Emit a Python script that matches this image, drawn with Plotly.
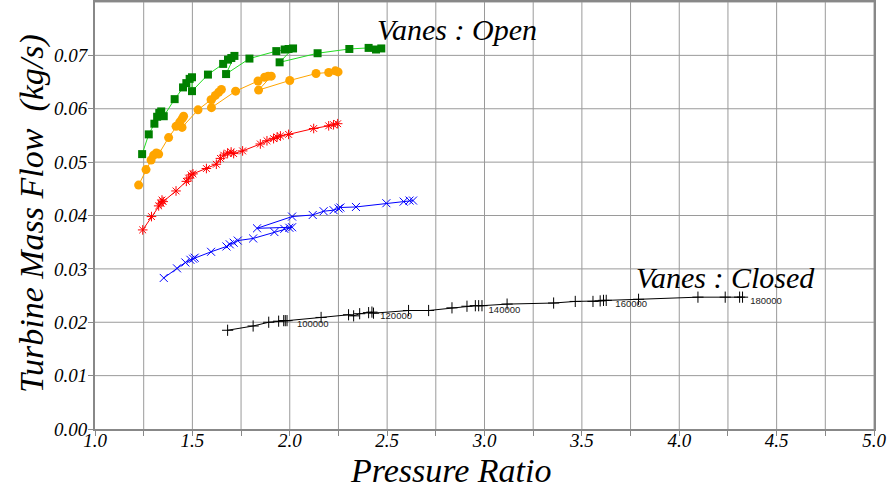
import plotly.graph_objects as go

# ---- data ----
green_x = [1.242, 1.276, 1.305, 1.319, 1.330, 1.340, 1.353, 1.409, 1.452, 1.469, 1.486, 1.498,
           1.498, 1.580, 1.658, 1.683, 1.700, 1.716,
           1.673, 1.793, 1.931, 1.974, 1.994, 2.017,
           1.948, 2.143, 2.306, 2.405, 2.443, 2.470]
green_y = [0.0515, 0.0552, 0.0572, 0.0585, 0.0592, 0.0595, 0.0586, 0.0618, 0.0640, 0.0648, 0.0656, 0.0659,
           0.0633, 0.0664, 0.0684, 0.0692, 0.0695, 0.0699,
           0.0665, 0.0694, 0.0708, 0.0711, 0.0712, 0.0713,
           0.0687, 0.0704, 0.0712, 0.0714, 0.0711, 0.0713]

orange_x = [1.224, 1.262, 1.288, 1.301, 1.315, 1.327, 1.378, 1.416, 1.435, 1.447, 1.455,
            1.447, 1.529, 1.596, 1.618, 1.635, 1.649,
            1.598, 1.722, 1.837, 1.871, 1.889, 1.905,
            1.840, 2.000, 2.135, 2.200, 2.234, 2.248]
orange_y = [0.0457, 0.0486, 0.0504, 0.0513, 0.0517, 0.0515, 0.0546, 0.0567, 0.0575, 0.0581, 0.0586,
            0.0565, 0.0598, 0.0617, 0.0625, 0.0631, 0.0636,
            0.0602, 0.0633, 0.0652, 0.0659, 0.0661, 0.0661,
            0.0635, 0.0653, 0.0666, 0.0668, 0.0671, 0.0669]

red_x = [1.245, 1.290, 1.327, 1.339, 1.344, 1.350, 1.416, 1.469, 1.481, 1.493, 1.503,
         1.572, 1.623, 1.644, 1.661, 1.681, 1.699, 1.712, 1.758, 1.849, 1.883, 1.917, 1.935, 1.952,
         1.994, 2.123, 2.200, 2.225, 2.246]
red_y = [0.0373, 0.0398, 0.0418, 0.0423, 0.0429, 0.0426, 0.0446, 0.0464, 0.0470, 0.0476, 0.0478,
         0.0488, 0.0496, 0.0507, 0.0513, 0.0517, 0.0519, 0.0516, 0.0521, 0.0534, 0.0540, 0.0544, 0.0547, 0.0549,
         0.0552, 0.0563, 0.0568, 0.0570, 0.0572]

blue_x = [1.353, 1.421, 1.464, 1.490, 1.504, 1.512, 1.596, 1.675, 1.692, 1.712, 1.733,
          1.812, 1.921, 1.972, 1.998, 2.012,
          1.832, 2.012, 2.118, 2.174, 2.225, 2.251, 2.260, 2.340, 2.496, 2.585, 2.615, 2.633]
blue_y = [0.0283, 0.0301, 0.0312, 0.0317, 0.0319, 0.0321, 0.0332, 0.0342, 0.0346, 0.0349, 0.0353,
          0.0357, 0.0369, 0.0375, 0.0377, 0.0378,
          0.0376, 0.0398, 0.0401, 0.0408, 0.0410, 0.0413, 0.0415, 0.0416, 0.0423, 0.0426, 0.0428, 0.0428]

black_x = [1.681, 1.812, 1.892, 1.943, 1.969, 1.977, 1.986,
           2.161, 2.302, 2.328, 2.359, 2.405, 2.422, 2.430,
           2.610, 2.713, 2.833, 2.910, 2.953, 2.970, 2.987,
           3.116, 3.355, 3.466, 3.557, 3.594, 3.611, 3.625,
           3.791, 4.096, 4.236, 4.310, 4.325]
black_y = [0.0185, 0.0193, 0.0200, 0.0202, 0.0203, 0.0203, 0.0203,
           0.0209, 0.0214, 0.0212, 0.0216, 0.0218, 0.0219, 0.0217,
           0.0222, 0.0222, 0.0227, 0.0230, 0.0231, 0.0231, 0.0231,
           0.0234, 0.0236, 0.0239, 0.0239, 0.0240, 0.0241, 0.0241,
           0.0243, 0.0247, 0.0247, 0.0247, 0.0247]

speed_labels = ["100000", "120000", "140000", "160000", "180000"]
speed_label_x = [2.037, 2.465, 3.021, 3.672, 4.364]
speed_label_y = [0.0195, 0.0210, 0.0222, 0.0233, 0.0239]

x_tick_vals = [1.0, 1.5, 2.0, 2.5, 3.0, 3.5, 4.0, 4.5, 5.0]
x_tick_text = ["1.0", "1.5", "2.0", "2.5", "3.0", "3.5", "4.0", "4.5", "5.0"]
x_grid_vals = [1.25, 1.5, 1.75, 2.0, 2.25, 2.5, 2.75, 3.0, 3.25, 3.5, 3.75, 4.0, 4.25, 4.5, 4.75, 5.0]
y_tick_vals = [0.00, 0.01, 0.02, 0.03, 0.04, 0.05, 0.06, 0.07]
y_tick_text = ["0.00", "0.01", "0.02", "0.03", "0.04", "0.05", "0.06", "0.07"]

SERIF = "Liberation Serif"
SANS = "Liberation Sans"
GRID = "#9a9a9a"

fig = go.Figure()

fig.add_trace(go.Scatter(x=green_x, y=green_y, mode="lines+markers",
                         line=dict(color="#22dd22", width=1),
                         marker=dict(symbol="square", size=8, color="#008000")))
fig.add_trace(go.Scatter(x=orange_x, y=orange_y, mode="lines+markers",
                         line=dict(color="#FFA500", width=1),
                         marker=dict(symbol="circle", size=9, color="#FFA500")))
fig.add_trace(go.Scatter(x=red_x, y=red_y, mode="lines+markers",
                         line=dict(color="#FF0000", width=1),
                         marker=dict(symbol="asterisk-open", size=8, color="#FF0000",
                                     line=dict(color="#FF0000", width=1))))
fig.add_trace(go.Scatter(x=blue_x, y=blue_y, mode="lines+markers",
                         line=dict(color="#0000FF", width=1),
                         marker=dict(symbol="x-thin-open", size=8, color="#0000FF",
                                     line=dict(color="#0000FF", width=1))))
fig.add_trace(go.Scatter(x=black_x, y=black_y, mode="lines+markers",
                         line=dict(color="#000000", width=1),
                         marker=dict(symbol="cross-thin-open", size=8, color="#000000",
                                     line=dict(color="#000000", width=1))))
fig.add_trace(go.Scatter(x=speed_label_x, y=speed_label_y, mode="text",
                         text=speed_labels, textposition="middle right",
                         textfont=dict(family=SANS, size=9.5, color="#222222")))

fig.add_annotation(x=2.86, y=0.0749, text="<i>Vanes : Open</i>", showarrow=False,
                   font=dict(family=SERIF, size=30, color="black"))
fig.add_annotation(x=4.236, y=0.0284, text="<i>Vanes : Closed</i>", showarrow=False,
                   font=dict(family=SERIF, size=30, color="black"))

# axis titles
fig.add_annotation(xref="paper", yref="paper", x=0.457, y=-0.098, xanchor="center", yanchor="middle",
                   text="<i>Pressure Ratio</i>", showarrow=False,
                   font=dict(family=SERIF, size=34, color="black"))
fig.add_annotation(xref="paper", yref="paper", x=-0.08, y=0.505, xanchor="center", yanchor="middle",
                   text="<i>Turbine Mass Flow  (kg/s)</i>", showarrow=False, textangle=-90,
                   font=dict(family=SERIF, size=34, color="black"))

# vertical grid lines (every 0.25) and horizontal grid lines (every 0.01)
for gx in x_grid_vals:
    fig.add_shape(type="line", xref="x", yref="paper", x0=gx, x1=gx, y0=0, y1=1,
                  line=dict(color=GRID, width=1), layer="below")
for gy in y_tick_vals[1:] + [0.08]:
    fig.add_shape(type="line", xref="paper", yref="y", x0=0, x1=1, y0=gy, y1=gy,
                  line=dict(color=GRID, width=1), layer="below")

axis_font = dict(family=SERIF, size=19, color="black")

fig.update_layout(
    template="none",
    width=888, height=495,
    margin=dict(l=95, r=14, t=2, b=66),
    paper_bgcolor="white", plot_bgcolor="white",
    showlegend=False,
    xaxis=dict(range=[1, 5], tickvals=x_tick_vals,
               ticktext=["<i>%s</i>" % t for t in x_tick_text],
               showgrid=False,
               minor=dict(tickvals=x_grid_vals, ticks="outside", ticklen=5, tickcolor="#888888"),
               ticks="outside", ticklen=5, tickcolor="#888888", ticklabelstandoff=-12,
               showline=True, linecolor="#888888", linewidth=2, mirror=True,
               zeroline=False, tickfont=axis_font, automargin=False),
    yaxis=dict(range=[0, 0.08], tickvals=y_tick_vals,
               ticktext=["<i>%s</i>" % t for t in y_tick_text],
               showgrid=False,
               ticks="outside", ticklen=5, tickcolor="#888888", ticklabelstandoff=-3,
               showline=True, linecolor="#888888", linewidth=2, mirror=True,
               zeroline=False, tickfont=axis_font, automargin=False),
)

fig.write_html("out.html", config={"displayModeBar": False},
               post_script="document.body.style.margin='0px';")
